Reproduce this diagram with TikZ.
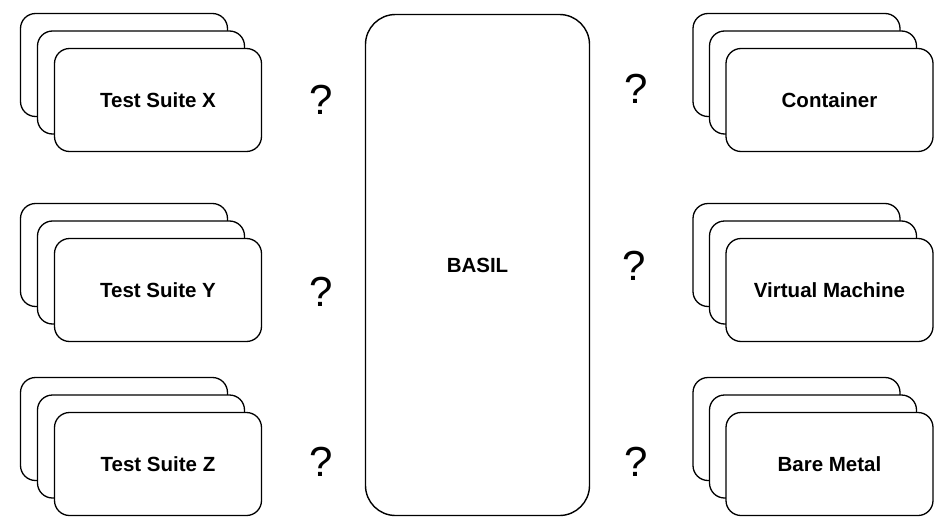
\documentclass[tikz,border=0pt]{standalone}
\usepackage{fontspec}
\setmainfont{Liberation Sans}
\begin{document}
\begin{tikzpicture}[x=1pt,y=-1pt,
  card/.style={draw, line width=1.3pt, rounded corners=15pt, fill=white,
    minimum width=207pt, minimum height=103pt, inner sep=0pt,
    font=\bfseries\fontsize{20.5}{24}\selectfont},
  bigbox/.style={draw, line width=1.4pt, rounded corners=30pt, fill=white,
    minimum width=224pt, minimum height=501pt, inner sep=0pt,
    font=\bfseries\fontsize{20.5}{24}\selectfont},
  qmark/.style={inner sep=0pt, font=\fontsize{42}{46}\selectfont}]
\fill[white] (0,0) rectangle (934,519);
\useasboundingbox (0,0) rectangle (934,519);
% left stacks
\foreach \yy/\lab/\nm in {100/{Test Suite X}/lx, 290/{Test Suite Y}/ly, 464/{Test Suite Z}/lz}{
  \node[card] (\nm c) at (124,\yy-35) {};
  \node[card] (\nm b) at (141,\yy-17.5) {};
  \node[card] (\nm a) at (158,\yy) {\lab};
}
% right stacks
\foreach \yy/\lab/\nm in {100/{Container}/rx, 290/{Virtual Machine}/ry, 464/{Bare Metal}/rz}{
  \node[card] (\nm c) at (796.5,\yy-35) {};
  \node[card] (\nm b) at (813,\yy-17.5) {};
  \node[card] (\nm a) at (829.5,\yy) {\lab};
}
% BASIL
\node[bigbox] (basil) at (477.5,265) {BASIL};
% question marks
\node[qmark] (q1) at (321,100) {?};
\node[qmark] (q2) at (321,292) {?};
\node[qmark] (q3) at (321,462) {?};
\node[qmark] (q4) at (636,89) {?};
\node[qmark] (q5) at (634,266) {?};
\node[qmark] (q6) at (636,462) {?};
\end{tikzpicture}
\end{document}
